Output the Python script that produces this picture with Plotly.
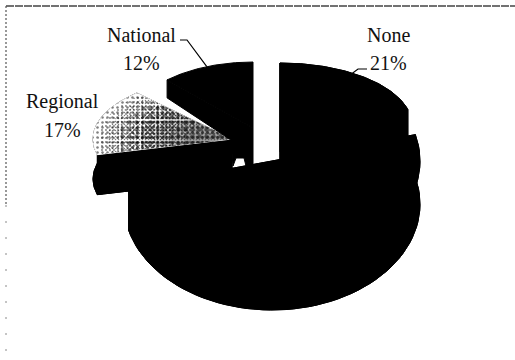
import math
import plotly.graph_objects as go

# Survey shares, clockwise from twelve o'clock
categories = ["None", "Remainder", "Regional", "National"]
shares = [21, 50, 17, 12]
labelled = ["None", "Regional", "National"]

# Projected geometry of each exploded slice: apex, radii, wall depth at rim and apex
GEOMETRY = {
    "None": dict(ax=280, ay=125, a=132, b=62, rim=27, core=42),
    "Remainder": dict(ax=272, ay=161, a=148, b=106, rim=43, core=43),
    "Regional": dict(ax=232, ay=139, a=139, b=63, rim=40, core=40),
    "National": dict(ax=253, ay=128, a=125.5, b=66, rim=18, core=35),
}
# Underside of the National slice near its apex, as offsets from the apex
NATIONAL_UNDERSIDE = [(0, 40), (-7, 38), (-9, 30), (-17, 30), (-20, 38), (-22, 12)]
# Speckle layers for the Regional top: radius scale, dot pitch, dot density, backing tone.
# Mixed pitches beat against each other and break up the regular grid.
SPECKLE = [(1.0, 5, 0.2, "rgba(0,0,0,0)"), (0.96, 4, 0.18, "rgba(0,0,0,0)"),
           (0.9, 3, 0.2, "rgba(0,0,0,0)"), (0.82, 7, 0.3, "rgba(0,0,0,0)"),
           (0.74, 5, 0.3, "rgba(0,0,0,0)"), (0.66, 4, 0.3, "rgba(120,120,120,0.12)"),
           (0.56, 3, 0.25, "rgba(120,120,120,0.2)"), (0.44, 7, 0.3, "rgba(120,120,120,0.3)"),
           (0.34, 5, 0.25, "rgba(120,120,120,0.4)")]
INK = "#000000"
SERIF = "Liberation Serif, Times New Roman, serif"

# Start and end angles in degrees, derived from the shares
spans = {}
angle = 0.0
for name, share in zip(categories, shares):
    spans[name] = (angle, angle + share * 3.6)
    angle += share * 3.6


def rim_point(g, deg, scale=1.0, drop=0.0):
    t = math.radians(deg)
    return g["ax"] + scale * g["a"] * math.sin(t), g["ay"] - scale * g["b"] * math.cos(t) + drop


def sector(name, scale=1.0, drop=0.0):
    g = GEOMETRY[name]
    start, end = spans[name]
    pts = [rim_point(g, start + (end - start) * i / 60, scale, drop) for i in range(61)]
    pts.append((g["ax"], g["ay"] + drop))
    pts.append(pts[0])
    return [p[0] for p in pts], [p[1] for p in pts]


def solid(xs, ys, color=INK):
    return go.Scatter(x=xs, y=ys, mode="lines", fill="toself", fillcolor=color,
                      line=dict(color=color, width=1), hoverinfo="skip", showlegend=False)


def walls(name):
    g = GEOMETRY[name]
    start, end = spans[name]
    out = [solid(*sector(name, drop=g["rim"]))]
    rim = [rim_point(g, start + (end - start) * i / 60) for i in range(61)]
    low = [(x, y + g["rim"]) for x, y in rim]
    band = rim + low[::-1] + [rim[0]]
    out.append(solid([p[0] for p in band], [p[1] for p in band]))
    for deg in (start, end):
        p = rim_point(g, deg)
        quad = [p, (g["ax"], g["ay"]), (g["ax"], g["ay"] + g["core"]),
                (p[0], p[1] + g["rim"]), p]
        out.append(solid([q[0] for q in quad], [q[1] for q in quad]))
    return out


def national_walls():
    # The far-left cut of the National slice carries the notch along its underside
    g = GEOMETRY["National"]
    start, _ = spans["National"]
    p = rim_point(g, start)
    under = [(g["ax"] + dx, g["ay"] + dy) for dx, dy in NATIONAL_UNDERSIDE]
    quad = [p, (g["ax"], g["ay"])] + under + [(p[0], p[1] + g["rim"]), p]
    return [solid([q[0] for q in quad], [q[1] for q in quad])]


fig = go.Figure()

# Regional sits at the back: its wall first, then the speckled top
for tr in walls("Regional"):
    fig.add_trace(tr)
fig.add_trace(solid(*sector("Regional"), color="#ffffff"))
for scale, pitch, density, back in SPECKLE:
    xs, ys = sector("Regional", scale)
    fig.add_trace(go.Scatter(
        x=xs, y=ys, mode="none", fill="toself", fillcolor=back,
        fillpattern=dict(shape=".", size=pitch, solidity=density, fgcolor=INK, bgcolor=back),
        hoverinfo="skip", showlegend=False))

fig.add_trace(solid(*sector("National")))
for tr in national_walls():
    fig.add_trace(tr)
for name in ["None", "Remainder"]:
    for tr in walls(name):
        fig.add_trace(tr)
    fig.add_trace(solid(*sector(name)))

# Leader lines run from the slice rim to an elbow beside the label
for name, frac, elbow, tail in [("National", 0.5, (187, 40), (180, 40)),
                                ("None", 0.44, (358, 69), (367, 69))]:
    start, end = spans[name]
    p = rim_point(GEOMETRY[name], start + (end - start) * frac)
    fig.add_trace(go.Scatter(x=[p[0], elbow[0], tail[0]], y=[p[1], elbow[1], tail[1]],
                             mode="lines", line=dict(color=INK, width=1.2),
                             hoverinfo="skip", showlegend=False))

# Each label is a name line above a percentage line
positions = {"None": (388, 35, 63), "National": (141, 35, 63), "Regional": (62, 101, 130)}
for name in labelled:
    x, y_name, y_share = positions[name]
    for text, y in ((name, y_name), (f"{shares[categories.index(name)]}%", y_share)):
        fig.add_annotation(x=x, y=y, text=text, showarrow=False,
                           xanchor="center", yanchor="middle",
                           font=dict(family=SERIF, size=20, color="#111111"))

# Dotted chart frame
fig.add_shape(type="line", x0=6, x1=515, y0=6, y1=6,
              line=dict(color="#444444", width=1.4, dash="8px,1px"))
fig.add_shape(type="line", x0=6, x1=6, y0=6, y1=205,
              line=dict(color="#555555", width=1.2, dash="2px,2px"))
fig.add_shape(type="line", x0=6, x1=6, y0=205, y1=360,
              line=dict(color="#8a8a8a", width=1, dash="2px,14px"))

fig.update_layout(
    width=515, height=360, margin=dict(l=0, r=0, t=0, b=0),
    paper_bgcolor="#ffffff", plot_bgcolor="#ffffff", showlegend=False,
    xaxis=dict(range=[0, 515], visible=False, fixedrange=True),
    yaxis=dict(range=[360, 0], visible=False, fixedrange=True),
)
fig.write_html("out.html", config=dict(displayModeBar=False))
